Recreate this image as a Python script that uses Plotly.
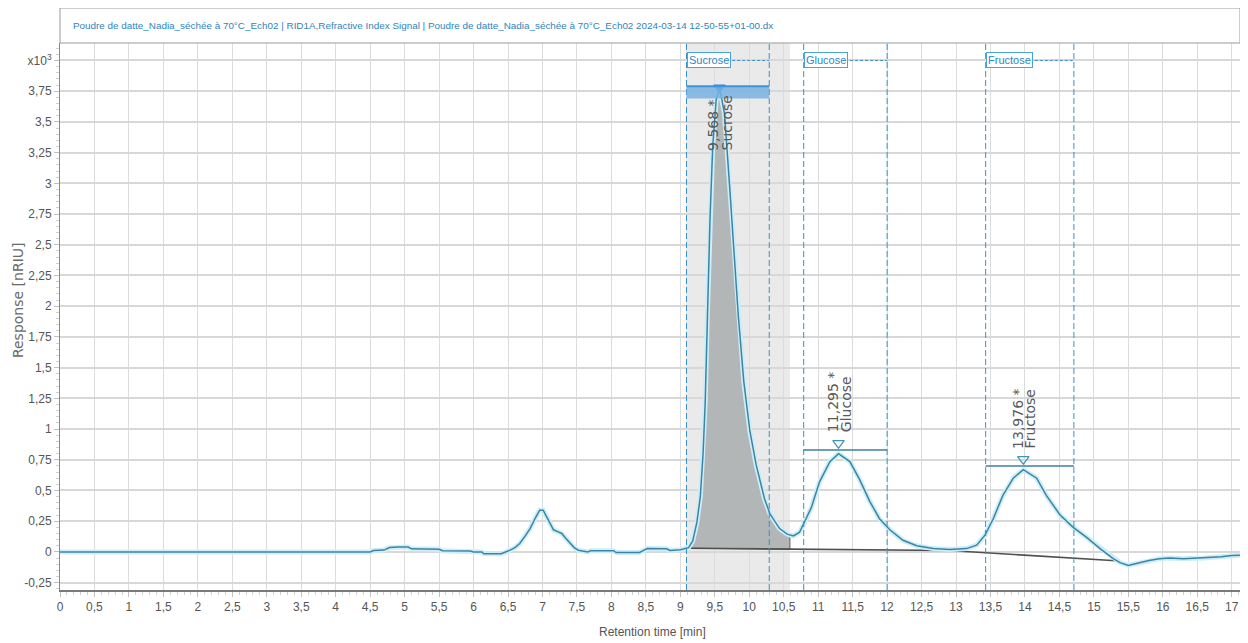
import numpy as np
import plotly.graph_objects as go

# ---------------- data ----------------
time_min = [0.00, 4.50, 4.55, 4.70, 4.78, 4.90, 5.05, 5.10, 5.50, 5.55, 5.95, 6.00, 6.12, 6.15,
            6.40, 6.48, 6.53, 6.60, 6.67, 6.75, 6.82, 6.90, 6.96, 7.01, 7.08, 7.16, 7.22, 7.28,
            7.34, 7.40, 7.46, 7.52, 7.60, 7.66, 7.70, 8.03, 8.07, 8.41, 8.46, 8.52, 8.80, 8.85,
            9.00, 9.08, 9.12, 9.18, 9.24, 9.29, 9.33, 9.36, 9.39, 9.43, 9.47, 9.52, 9.568, 9.64,
            9.71, 9.77, 9.84, 9.92, 10.01, 10.10, 10.22, 10.30, 10.44, 10.55, 10.64, 10.73, 10.83,
            10.90, 11.02, 11.17, 11.295, 11.46, 11.60, 11.75, 11.89, 12.04, 12.23, 12.43, 12.67,
            12.91, 13.15, 13.30, 13.42, 13.54, 13.68, 13.83, 13.976, 14.17, 14.31, 14.51, 14.70,
            14.89, 15.09, 15.28, 15.38, 15.50, 15.57, 15.67, 15.80, 15.95, 16.10, 16.30, 16.60,
            16.85, 17.00, 17.12]
response = [0.000, 0.000, 0.012, 0.015, 0.035, 0.040, 0.040, 0.025, 0.022, 0.010, 0.008, 0.000,
            0.000, -0.015, -0.015, 0.000, 0.014, 0.035, 0.068, 0.130, 0.190, 0.280, 0.340, 0.340,
            0.260, 0.180, 0.165, 0.150, 0.110, 0.068, 0.035, 0.014, 0.005, 0.000, 0.010, 0.010,
            -0.005, -0.005, 0.010, 0.027, 0.025, 0.012, 0.018, 0.028, 0.035, 0.090, 0.240, 0.450,
            0.800, 1.200, 1.900, 2.700, 3.300, 3.680, 3.780, 3.570, 3.020, 2.480, 1.930, 1.390,
            0.980, 0.710, 0.435, 0.310, 0.190, 0.145, 0.130, 0.160, 0.270, 0.360, 0.570, 0.735,
            0.800, 0.735, 0.590, 0.410, 0.270, 0.180, 0.095, 0.050, 0.027, 0.020, 0.027, 0.055,
            0.136, 0.270, 0.460, 0.600, 0.670, 0.600, 0.460, 0.300, 0.200, 0.120, 0.027, -0.055,
            -0.087, -0.110, -0.100, -0.085, -0.070, -0.055, -0.050, -0.055, -0.050, -0.040,
            -0.030, -0.028]

baseline_t = [9.12, 12.90, 15.32]
baseline_v = [0.030, 0.012, -0.072]

peak_names = ["Sucrose", "Glucose", "Fructose"]
peak_rt = [9.568, 11.295, 13.976]
peak_rt_labels = ["9,568 *", "11,295 *", "13,976 *"]
peak_height = [3.78, 0.80, 0.67]
window_start = [9.09, 10.79, 13.43]
window_end = [10.29, 12.00, 14.71]
peak_selected = [True, False, False]

area_start = 9.12     # shaded (integrated) sucrose area
area_end = 10.59
band_start = 9.08     # highlighted time band
band_end = 10.59

x_ticks = [0, 0.5, 1, 1.5, 2, 2.5, 3, 3.5, 4, 4.5, 5, 5.5, 6, 6.5, 7, 7.5, 8, 8.5, 9, 9.5,
           10, 10.5, 11, 11.5, 12, 12.5, 13, 13.5, 14, 14.5, 15, 15.5, 16, 16.5, 17]
x_tick_labels = ["0", "0,5", "1", "1,5", "2", "2,5", "3", "3,5", "4", "4,5", "5", "5,5", "6",
                 "6,5", "7", "7,5", "8", "8,5", "9", "9,5", "10", "10,5", "11", "11,5", "12",
                 "12,5", "13", "13,5", "14", "14,5", "15", "15,5", "16", "16,5", "17"]
y_ticks = [-0.25, 0, 0.25, 0.5, 0.75, 1, 1.25, 1.5, 1.75, 2, 2.25, 2.5, 2.75, 3, 3.25, 3.5,
           3.75, 4]
y_tick_labels = ["-0,25", "0", "0,25", "0,5", "0,75", "1", "1,25", "1,5", "1,75", "2", "2,25",
                 "2,5", "2,75", "3", "3,25", "3,5", "3,75", "x10<sup>3</sup>"]

title_text = ("Poudre de datte_Nadia_séchée à 70°C_Ech02 | RID1A,Refractive Index Signal | "
              "Poudre de datte_Nadia_séchée à 70°C_Ech02 2024-03-14 12-50-55+01-00.dx")

# ---------------- styles ----------------
NARROW = "Liberation Sans Narrow, Arial Narrow, Liberation Sans, Arial, sans-serif"
WIDE = "DejaVu Sans, Verdana, sans-serif"
SIGNAL = "#3d84a4"
WINDOW = "#3a90c8"
LABEL_BOX_W = [0.59, 0.60, 0.64]   # width of the name boxes, minutes

t_arr = np.array(time_min)
v_arr = np.array(response)

fig = go.Figure()

# integrated sucrose area (polygon between curve and baseline)
mask = (t_arr > area_start) & (t_arr < area_end)
px = [area_start] + list(t_arr[mask]) + [area_end, area_end, area_start]
py = ([float(np.interp(area_start, t_arr, v_arr))] + list(v_arr[mask]) +
      [float(np.interp(area_end, t_arr, v_arr)),
       float(np.interp(area_end, baseline_t, baseline_v)),
       float(np.interp(area_start, baseline_t, baseline_v))])
fig.add_trace(go.Scatter(x=px, y=py, fill="toself", fillcolor="#b3b6b7",
                         line=dict(color="#5f5f5f", width=1), mode="lines",
                         hoverinfo="skip", showlegend=False))

# integration baseline
fig.add_trace(go.Scatter(x=baseline_t, y=baseline_v, mode="lines",
                         line=dict(color="#505050", width=1.6), showlegend=False))

# signal with light glow
fig.add_trace(go.Scatter(x=time_min, y=response, mode="lines",
                         line=dict(color="#cdeef8", width=5), showlegend=False, hoverinfo="skip"))
fig.add_trace(go.Scatter(x=time_min, y=response, mode="lines",
                         line=dict(color=SIGNAL, width=1.5), showlegend=False))

shapes = []
annotations = []

# highlighted band
shapes.append(dict(type="rect", xref="x", yref="paper", x0=band_start, x1=band_end, y0=0, y1=1,
                   fillcolor="#eaeaea", line=dict(width=0), layer="below"))

for i, name in enumerate(peak_names):
    # window dashed lines
    for xv in (window_start[i], window_end[i]):
        shapes.append(dict(type="line", xref="x", yref="paper", x0=xv, x1=xv, y0=0, y1=1,
                           line=dict(color=WINDOW, width=1, dash="6px,3px")))
    # name box + dashed connector
    annotations.append(dict(x=window_start[i], y=4.0, xref="x", yref="y", text=name,
                            showarrow=False, xanchor="left", yanchor="middle",
                            font=dict(family=NARROW, size=11, color="#2c86c4"),
                            bgcolor="white", bordercolor="#4ba3dc", borderwidth=1, borderpad=1))
    shapes.append(dict(type="line", xref="x", yref="y", x0=window_start[i] + LABEL_BOX_W[i],
                       x1=window_end[i], y0=4.0, y1=4.0,
                       line=dict(color=WINDOW, width=1, dash="3px,2px")))
    # peak height marks
    if peak_selected[i]:
        shapes.append(dict(type="rect", xref="x", yref="y", x0=window_start[i], x1=window_end[i],
                           y0=peak_height[i] - 0.09, y1=peak_height[i] + 0.01,
                           fillcolor="rgba(120,178,226,0.85)", line=dict(width=0)))
        shapes.append(dict(type="line", xref="x", yref="y", x0=window_start[i], x1=window_end[i],
                           y0=peak_height[i] + 0.01, y1=peak_height[i] + 0.01,
                           line=dict(color="#3f93d6", width=2)))
    else:
        shapes.append(dict(type="line", xref="x", yref="y", x0=window_start[i], x1=window_end[i],
                           y0=peak_height[i] + 0.03, y1=peak_height[i] + 0.03,
                           line=dict(color="#3f8098", width=1.5)))

# triangles
fig.add_trace(go.Scatter(
    x=peak_rt, y=[h + (0.0 if s else 0.085) for h, s in zip(peak_height, peak_selected)],
    mode="markers", showlegend=False,
    marker=dict(symbol=["triangle-down" if s else "triangle-down-open" for s in peak_selected],
                size=10, color=["#2a86d2" if s else "#3f93b5" for s in peak_selected],
                line=dict(width=1.2, color=["#2a86d2" if s else "#3f93b5" for s in peak_selected]))))

# peak labels (rotated, two columns)
for i, name in enumerate(peak_names):
    shift = -65 if peak_selected[i] else 19
    for txt, dx in ((peak_rt_labels[i], -6), (name, 7)):
        annotations.append(dict(x=peak_rt[i], y=peak_height[i], xref="x", yref="y",
                                text=txt, textangle=-90, showarrow=False,
                                xanchor="center", yanchor="bottom", xshift=dx, yshift=shift,
                                font=dict(family=WIDE, size=14, color="#5a5a5a")))

# title box
shapes.append(dict(type="rect", xref="paper", yref="paper", x0=0, x1=1, y0=1, y1=1.064,
                   fillcolor="white", line=dict(color="#9a9a9a", width=1)))
annotations.append(dict(x=0, y=1.032, xref="paper", yref="paper", xshift=11, text=title_text,
                        showarrow=False, xanchor="left", yanchor="middle",
                        font=dict(family=NARROW, size=9.9, color="#2f84bd")))
# axis titles
annotations.append(dict(x=0, y=0.53, xref="paper", yref="paper", xshift=-42,
                        text="Response [nRIU]", textangle=-90, showarrow=False,
                        xanchor="center", yanchor="middle",
                        font=dict(family=WIDE, size=14, color="#6a6a6a")))
annotations.append(dict(x=0.502, y=-0.077, xref="paper", yref="paper",
                        text="Retention time [min]", showarrow=False,
                        xanchor="center", yanchor="middle",
                        font=dict(family=NARROW, size=12, color="#555555")))

# the page adds an 8 px body margin, so the figure is sized to fit inside it
fig.update_layout(
    width=1240, height=635,
    margin=dict(l=52, r=8, t=35, b=53),
    paper_bgcolor="white", plot_bgcolor="white",
    shapes=shapes, annotations=annotations,
    xaxis=dict(range=[0, 17.12], tickmode="array", tickvals=x_ticks, ticktext=x_tick_labels,
               showgrid=True, gridcolor="#dcdcdc", gridwidth=1, zeroline=False,
               showline=True, linecolor="#7a7a7a", linewidth=2,
               ticks="outside", ticklen=5, tickcolor="#c0c0c0",
               tickfont=dict(family=NARROW, size=12, color="#555555"),
               minor=dict(dtick=0.1, ticks="outside", ticklen=3, tickcolor="#d0d0d0",
                          showgrid=False)),
    yaxis=dict(range=[-0.31, 4.142], tickmode="array", tickvals=y_ticks, ticktext=y_tick_labels,
               showgrid=True, gridcolor="#d8d8d8", gridwidth=2, zeroline=False,
               showline=True, linecolor="#8a8a8a", linewidth=1,
               ticks="outside", ticklen=5, tickcolor="#c0c0c0",
               tickfont=dict(family=NARROW, size=12, color="#555555"),
               minor=dict(dtick=0.05, ticks="outside", ticklen=3, tickcolor="#d0d0d0",
                          showgrid=False)),
)

fig.write_html("out.html")
